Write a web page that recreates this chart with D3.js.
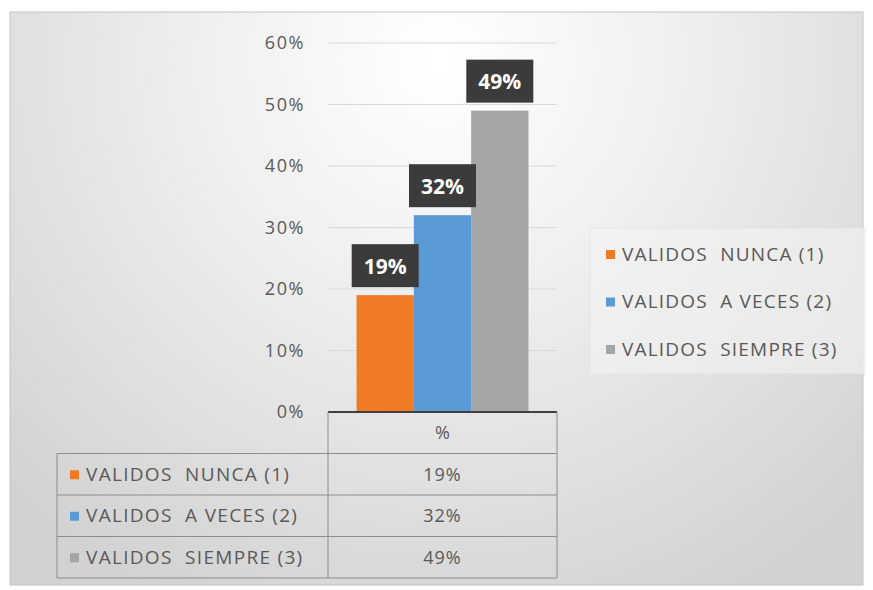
<!DOCTYPE html>
<html><head><meta charset="utf-8">
<script src="https://cdn.jsdelivr.net/npm/d3@7"></script>
<style>body{margin:0;background:#fff}svg{display:block}</style>
</head><body><svg id="c" width="873" height="590"></svg>
<script>
const series = ["VALIDOS  NUNCA (1)", "VALIDOS  A VECES (2)", "VALIDOS  SIEMPRE (3)"];
const values = [0.19, 0.32, 0.49];
const colors = ["#f07b27", "#5a9bd5", "#a5a5a5"];
const category = "%";
const yTicks = [0, 0.1, 0.2, 0.3, 0.4, 0.5, 0.6];

const svg = d3.select("#c");
const font = "'Open Sans', sans-serif";
const txt = "#595959";

const defs = svg.append("defs");
const rg = defs.append("radialGradient").attr("id","bg")
  .attr("gradientUnits","userSpaceOnUse").attr("cx",440).attr("cy",60).attr("r",600);
rg.append("stop").attr("offset","0").attr("stop-color","#ffffff");
rg.append("stop").attr("offset","0.4").attr("stop-color","#efefef");
rg.append("stop").attr("offset","1").attr("stop-color","#d2d2d2");

svg.append("rect").attr("x",10).attr("y",12).attr("width",853).attr("height",573)
  .attr("fill","url(#bg)").attr("stroke","#c4c4c4");

const plotL = 328, plotR = 557, plotT = 43, plotB = 412;
const y = d3.scaleLinear().domain([0,0.6]).range([plotB, plotT]);
const x0 = d3.scaleBand().domain([category]).range([plotL, plotR]).paddingInner(0).paddingOuter(0.166);
const x1 = d3.scaleBand().domain(series).range([0, x0.bandwidth()]);

// gridlines + y labels
const yAxis = d3.axisLeft(y).tickValues(yTicks).tickFormat(d3.format(".0%")).tickSize(0).tickPadding(0);
const ga = svg.append("g").attr("transform",`translate(${plotL-23},0)`).call(yAxis);
ga.select(".domain").remove();
ga.selectAll("text").attr("fill",txt).style("font-family",font).style("font-size","18px")
  .style("letter-spacing","1.6px");
svg.append("g").selectAll("line").data(yTicks.filter(d=>d>0)).join("line")
  .attr("x1",plotL).attr("x2",plotR).attr("y1",d=>y(d)).attr("y2",d=>y(d))
  .attr("stroke","#d9d9d9").attr("stroke-width",1.2);

// bars
const g = svg.append("g").attr("transform",`translate(${x0(category)},0)`);
g.selectAll("rect").data(values).join("rect")
  .attr("x",(d,i)=>x1(series[i])).attr("width",x1.bandwidth())
  .attr("y",d=>y(d)).attr("height",d=>plotB-y(d)).attr("fill",(d,i)=>colors[i]);

// data labels
const lb = g.selectAll("g.lbl").data(values).join("g").attr("class","lbl")
  .attr("transform",(d,i)=>`translate(${x1(series[i])+x1.bandwidth()/2},${y(d)-8})`);
lb.append("rect").attr("x",-33.5).attr("y",-43).attr("width",67).attr("height",43).attr("fill","#3b3b3b");
lb.append("text").attr("y",-13.5).attr("text-anchor","middle").attr("fill","#fff")
  .style("font-family",font).style("font-weight","bold").style("font-size","21px")
  .text(d=>d3.format(".0%")(d));

// axis line
svg.append("line").attr("x1",plotL).attr("x2",plotR).attr("y1",plotB).attr("y2",plotB)
  .attr("stroke","#404040").attr("stroke-width",2);

// data table
const tL = 57, rowH = 41.5, tTop = plotB;
const tb = svg.append("g");
const lineC = "#8c8c8c";
tb.append("line").attr("x1",plotL).attr("x2",plotL).attr("y1",tTop).attr("y2",tTop+rowH*4).attr("stroke",lineC);
tb.append("line").attr("x1",plotR).attr("x2",plotR).attr("y1",tTop).attr("y2",tTop+rowH*4).attr("stroke",lineC);
tb.append("line").attr("x1",tL).attr("x2",tL).attr("y1",tTop+rowH).attr("y2",tTop+rowH*4).attr("stroke",lineC);
[1,2,3,4].forEach(k=>tb.append("line").attr("x1",tL).attr("x2",plotR)
  .attr("y1",tTop+rowH*k).attr("y2",tTop+rowH*k).attr("stroke",lineC));
tb.append("text").attr("x",(plotL+plotR)/2).attr("y",tTop+rowH/2+6).attr("text-anchor","middle")
  .attr("fill",txt).style("font-family",font).style("font-size","18px").text(category);
const rows = tb.selectAll("g.row").data(series).join("g").attr("class","row")
  .attr("transform",(d,i)=>`translate(0,${tTop+rowH*(i+1)+rowH/2})`);
rows.append("rect").attr("x",70).attr("y",-4).attr("width",9).attr("height",9).attr("fill",(d,i)=>colors[i]);
rows.append("text").attr("x",86).attr("y",6.5).attr("fill",txt).style("font-family",font).style("font-size","19px")
  .style("letter-spacing","1.3px").style("white-space","pre").attr("xml:space","preserve").text(d=>d);
rows.append("text").attr("x",(plotL+plotR)/2).attr("y",6.5).attr("text-anchor","middle").attr("fill",txt)
  .style("font-family",font).style("font-size","18px").style("letter-spacing","1px")
  .text((d,i)=>d3.format(".0%")(values[i]));

// legend
const lg = svg.append("g");
lg.append("rect").attr("x",590).attr("y",228).attr("width",275).attr("height",146)
  .attr("fill","#f4f4f4").attr("opacity",0.6).attr("stroke","#e2e2e2");
const li = lg.selectAll("g.li").data(series).join("g").attr("class","li")
  .attr("transform",(d,i)=>`translate(606,${254+i*47.5})`);
li.append("rect").attr("x",0).attr("y",-4).attr("width",9).attr("height",9).attr("fill",(d,i)=>colors[i]);
li.append("text").attr("x",16).attr("y",6.5).attr("fill",txt).style("font-family",font).style("font-size","19px")
  .style("letter-spacing","1.2px").style("white-space","pre").attr("xml:space","preserve").text(d=>d);
</script></body></html>
